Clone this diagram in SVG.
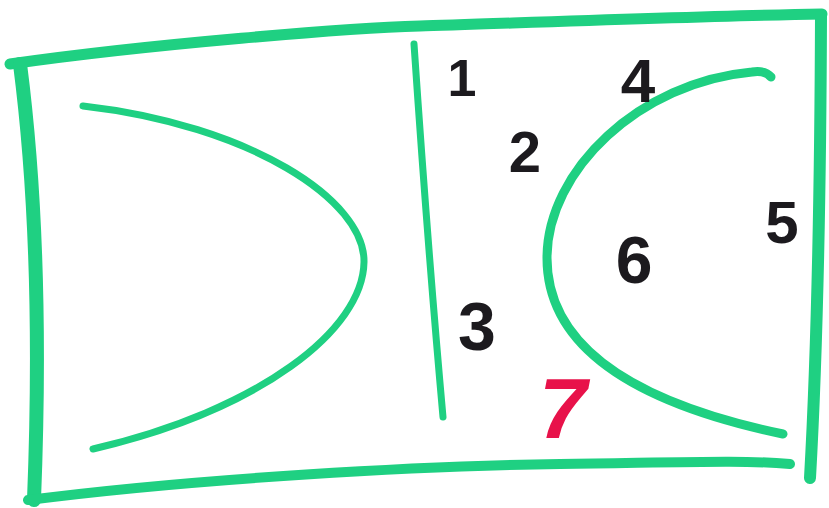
<svg xmlns="http://www.w3.org/2000/svg" width="829" height="508" viewBox="0 0 829 508">
<style>
.g{fill:none;stroke:#1fd082;stroke-linecap:round;stroke-linejoin:round}
.n{font-family:"Liberation Sans",Arial,sans-serif;font-weight:bold;fill:#1c1a1e;text-anchor:middle}
</style>
<rect width="829" height="508" fill="#ffffff"/>
<g id="frame">
<path class="g" stroke-width="11" d="M10,64 C150,44 350,28 420,26 S700,16 822,14"/>
<path class="g" stroke-width="14" d="M20,64 Q44,250 34,500"/>
<path class="g" stroke-width="10" d="M28,500 C200,478 420,466 560,464 S740,460 790,464"/>
<path class="g" stroke-width="12" d="M821,16 Q820,300 810,478"/>
</g>
<g id="curves">
<path class="g" stroke-width="7" d="M83,106 C250,125 365,200 364,262 C363,330 260,410 93,449"/>
<path class="g" stroke-width="7" d="M414,44 Q428,250 443,417"/>
<path class="g" stroke-width="9" d="M771,77 Q765,70 752,72 C640,82 547,170 547,258 C547,340 620,400 783,434"/>
</g>
<g id="labels">
<text class="n" x="462" y="96" font-size="52">1</text>
<text class="n" x="525" y="172" font-size="58">2</text>
<text class="n" x="477" y="350" font-size="68">3</text>
<text class="n" x="638" y="102" font-size="62">4</text>
<text class="n" x="782" y="243" font-size="60">5</text>
<text class="n" x="634" y="283" font-size="66">6</text>
<text class="n" x="563" y="438" font-size="86" font-style="italic" style="fill:#e8124a">7</text>
</g>
</svg>
